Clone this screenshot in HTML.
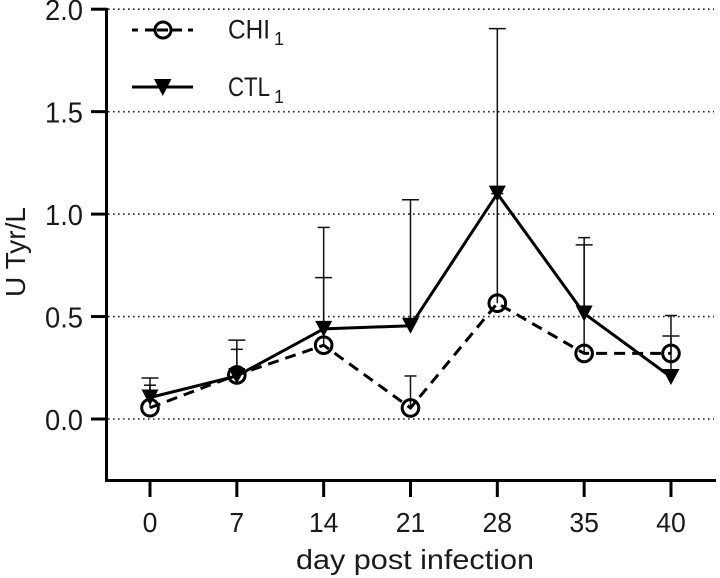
<!DOCTYPE html>
<html lang="en">
<head>
<meta charset="utf-8">
<title>U Tyr/L by day post infection</title>
<style>
html,body{margin:0;padding:0;background:#fff;width:720px;height:578px;overflow:hidden}
svg{display:block;font-family:"Liberation Sans",sans-serif;fill:#1a1a1a}
text{fill:#1a1a1a}
</style>
</head>
<body>
<svg id="chart" width="720" height="578" viewBox="0 0 720 578" xmlns="http://www.w3.org/2000/svg">
  <g id="grid"></g>
  <g id="axes"></g>
  <g id="errors"></g>
  <g id="series"></g>
  <text transform="translate(25,252) rotate(-90)" text-anchor="middle" font-size="28" textLength="90" lengthAdjust="spacingAndGlyphs">U Tyr/L</text>
  <text x="415" y="569" text-anchor="middle" font-size="28" textLength="238" lengthAdjust="spacingAndGlyphs">day post infection</text>
  <g>
    <g>
      <line x1="132" y1="30" x2="193" y2="30" stroke="#000" stroke-width="3" stroke-dasharray="6 7 10 2 11 4 10 6 5"/>
      <circle cx="163" cy="30" r="8" fill="none" stroke="#000" stroke-width="3"/>
      <text x="228" y="38.500" font-size="27" textLength="42" lengthAdjust="spacingAndGlyphs">CHI</text>
      <text x="274" y="45" font-size="18">1</text>
    </g>
    <g>
      <line x1="132" y1="87" x2="193" y2="87" stroke="#000" stroke-width="3"/>
      <polygon points="154,79 171.500,79 162.750,96" fill="#000"/>
      <text x="228" y="96" font-size="27" textLength="42" lengthAdjust="spacingAndGlyphs">CTL</text>
      <text x="274" y="103" font-size="18">1</text>
    </g>
  </g>
</svg>
<script>
const categories = ["0", "7", "14", "21", "28", "35", "40"];
const yTicks = [0, 0.5, 1, 1.5, 2];
const yTickLabels = ["0.0", "0.5", "1.0", "1.5", "2.0"];
const chiValues = [0.055, 0.215, 0.36, 0.054, 0.565, 0.32, 0.32];
const ctlValues = [0.105, 0.21, 0.44, 0.455, 1.10, 0.515, 0.205];
const chiUpper = [0.165, 0.34, 0.935, 0.21, 1.10, 0.885, 0.505];
const ctlUpper = [0.20, 0.385, 0.69, 1.07, 1.905, 0.85, 0.405];

const SVGNS = "http://www.w3.org/2000/svg";
function xPos(i) { return 150 + i * 86.83; }
function yPos(v) { return 419 - v * 204.9; }
function make(tag, parent, attrs) {
  const el = document.createElementNS(SVGNS, tag);
  for (const k in attrs) el.setAttribute(k, attrs[k]);
  parent.appendChild(el);
  return el;
}
const grid = document.getElementById("grid");
const axes = document.getElementById("axes");
const errors = document.getElementById("errors");
const series = document.getElementById("series");

yTicks.forEach(function (v, i) {
  const y = yPos(v);
  const g = make("line", grid, { x1: 108, y1: y, x2: 714, y2: y, stroke: "#222", "stroke-width": 1.6, "stroke-dasharray": "1.6 3.4" });
  
  
  const t = make("line", axes, { x1: 91, y1: y, x2: 107, y2: y, stroke: "#000", "stroke-width": 3 });
  
  
  const l = make("text", axes, { x: 83, y: y + 11, "text-anchor": "end", "font-size": 29, textLength: 38, lengthAdjust: "spacingAndGlyphs" });
  
  
  l.textContent = yTickLabels[i];
});

const yAxis = make("path", axes, { d: "M106.500 8V480.500H716", fill: "none", stroke: "#000", "stroke-width": 3 });



categories.forEach(function (c, i) {
  const x = xPos(i);
  const t = make("line", axes, { x1: x, y1: 481, x2: x, y2: 497, stroke: "#000", "stroke-width": 3 });
  
  
  const l = make("text", axes, { x: x, y: 532, "text-anchor": "middle", "font-size": 28, textLength: 14.8 * c.length, lengthAdjust: "spacingAndGlyphs" });
  
  
  l.textContent = c;
});

function errorBar(i, value, upper, capHalf, name) {
  const x = xPos(i);
  const st = make("line", errors, { x1: x, y1: yPos(value), x2: x, y2: yPos(upper), stroke: "#111", "stroke-width": 1.5 });
  
  
  const cap = make("line", errors, { x1: x - capHalf, y1: yPos(upper), x2: x + capHalf, y2: yPos(upper), stroke: "#111", "stroke-width": 1.5 });
  
  
}
categories.forEach(function (c, i) {
  errorBar(i, chiValues[i], chiUpper[i], 6, "chi1");
  errorBar(i, ctlValues[i], ctlUpper[i], 8.5, "ctl1");
});

function pathFor(vals) {
  return vals.map(function (v, i) { return (i ? "L" : "M") + xPos(i) + " " + yPos(v); }).join("");
}
const chiLine = make("path", series, { d: pathFor(chiValues), fill: "none", stroke: "#000", "stroke-width": 3, "stroke-dasharray": "11 7" });


const ctlLine = make("path", series, { d: pathFor(ctlValues), fill: "none", stroke: "#000", "stroke-width": 3, "stroke-linejoin": "miter" });



ctlValues.forEach(function (v, i) {
  const x = xPos(i), y = yPos(v);
  const p = make("polygon", series, { points: (x - 8.5) + "," + (y - 8) + " " + (x + 8.5) + "," + (y - 8) + " " + x + "," + (y + 8), fill: "#000" });
  
  
});
chiValues.forEach(function (v, i) {
  const p = make("circle", series, { cx: xPos(i), cy: yPos(v), r: 8.3, fill: "none", stroke: "#000", "stroke-width": 3 });
  
  
});
</script>
</body>
</html>
